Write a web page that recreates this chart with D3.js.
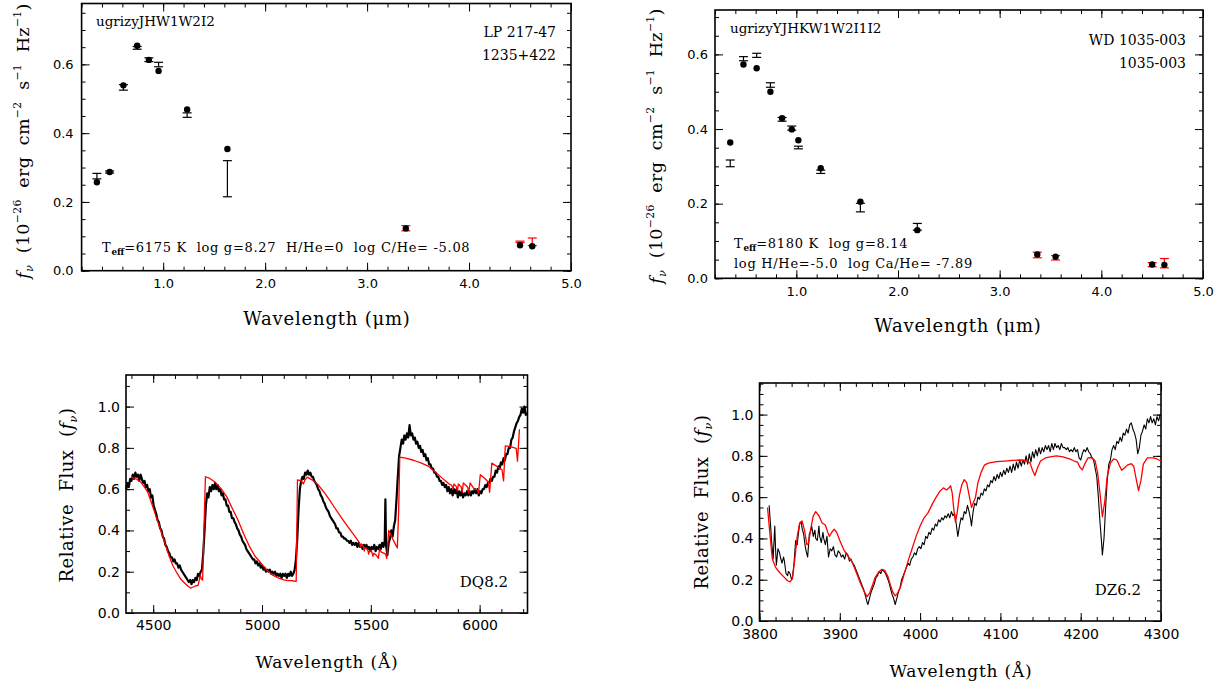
<!DOCTYPE html>
<head>
<meta charset="utf-8">
<style>
body { margin: 0; background: #fff; }
svg text { font-family: "DejaVu Serif", serif; fill: #000; white-space: pre; }
svg .tick text { font-family: "DejaVu Sans", sans-serif; font-size: 13px; }
svg .tick line { stroke: #000; stroke-width: 1px; }
svg .frame { fill: none; stroke: #000; stroke-width: 1.6px; }
svg .obs { fill: none; stroke: #000; stroke-linejoin: round; }
svg .model { fill: none; stroke: #ff0000; stroke-width: 1.3px; stroke-linejoin: round; }
</style>
</head>
<body>
<script src="https://cdn.jsdelivr.net/npm/d3@7"></script>
<script>
// ---- photometry, LP 217-47 (top left) ----
var tlBand  = ["u", "g", "r", "i", "z", "y", "J", "H", "W1", "I2", "W2"];
var tlWave  = [0.35, 0.475, 0.61, 0.745, 0.86, 0.955, 1.235, 1.63, 3.38, 4.50, 4.62];
var tlModel = [0.257, 0.287, 0.539, 0.654, 0.613, 0.581, 0.469, 0.354, 0.123, 0.074, 0.071];
var tlLow   = [0.267, 0.284, 0.525, 0.644, 0.608, 0.593, 0.446, 0.215, 0.116, 0.082, 0.073];
var tlHigh  = [0.283, 0.290, 0.541, 0.652, 0.619, 0.606, 0.459, 0.320, 0.131, 0.086, 0.095];

// ---- photometry, WD 1035-003 (top right) ----
var trBand  = ["u", "g", "r", "i", "z", "y", "Y", "J", "H", "K", "W1", "I1", "I2", "W2"];
var trWave  = [0.35, 0.48, 0.61, 0.745, 0.86, 0.955, 1.02, 1.24, 1.63, 2.19, 3.37, 3.55, 4.50, 4.62];
var trModel = [0.364, 0.573, 0.563, 0.500, 0.429, 0.399, 0.370, 0.295, 0.205, 0.129, 0.064, 0.058, 0.037, 0.036];
var trLow   = [0.299, 0.583, 0.592, 0.512, 0.421, 0.397, 0.347, 0.281, 0.178, 0.129, 0.055, 0.049, 0.031, 0.028];
var trHigh  = [0.317, 0.594, 0.603, 0.524, 0.431, 0.408, 0.354, 0.290, 0.201, 0.147, 0.070, 0.061, 0.042, 0.053];

// ---- DQ spectrum (bottom left), [wavelength A, relative flux] ----
var dqObs = [
[4376,0.60],[4382,0.63],[4388,0.61],[4394,0.65],[4400,0.64],[4406,0.67],[4412,0.65],[4418,0.68],[4424,0.66],[4430,0.67],
[4436,0.64],[4442,0.67],[4448,0.65],[4454,0.63],[4460,0.64],[4466,0.61],[4472,0.62],[4478,0.59],[4484,0.60],[4490,0.56],
[4496,0.57],[4502,0.52],[4508,0.50],[4514,0.48],[4520,0.45],[4526,0.44],[4532,0.41],[4538,0.40],[4544,0.37],[4550,0.36],
[4556,0.33],[4562,0.32],[4568,0.30],[4574,0.29],[4580,0.27],[4586,0.27],[4592,0.25],[4598,0.26],[4604,0.24],[4610,0.24],
[4616,0.22],[4622,0.23],[4628,0.21],[4634,0.20],[4640,0.19],[4646,0.18],[4652,0.17],[4658,0.16],[4664,0.15],[4670,0.16],
[4676,0.14],[4682,0.16],[4688,0.15],[4694,0.17],[4700,0.16],[4706,0.19],[4712,0.18],[4718,0.20],[4724,0.21],[4730,0.29],
[4736,0.40],[4742,0.52],[4748,0.58],[4754,0.56],[4760,0.61],[4766,0.59],[4772,0.62],[4778,0.60],[4784,0.63],[4790,0.60],
[4796,0.62],[4802,0.59],[4808,0.60],[4814,0.57],[4820,0.58],[4826,0.55],[4832,0.55],[4838,0.52],[4844,0.52],[4850,0.49],
[4856,0.49],[4862,0.46],[4868,0.46],[4874,0.44],[4880,0.43],[4886,0.41],[4892,0.40],[4898,0.38],[4904,0.37],[4910,0.35],
[4916,0.34],[4922,0.33],[4928,0.31],[4934,0.30],[4940,0.29],[4946,0.28],[4952,0.27],[4958,0.26],[4964,0.26],[4970,0.24],
[4976,0.25],[4982,0.23],[4988,0.24],[4994,0.22],[5000,0.23],[5006,0.21],[5012,0.22],[5018,0.20],[5024,0.21],[5030,0.20],
[5036,0.21],[5042,0.19],[5048,0.20],[5054,0.19],[5060,0.20],[5066,0.18],[5072,0.19],[5078,0.18],[5084,0.19],[5090,0.17],
[5096,0.19],[5102,0.18],[5108,0.19],[5114,0.17],[5120,0.19],[5126,0.18],[5132,0.20],[5138,0.18],[5144,0.19],[5150,0.21],
[5156,0.26],[5162,0.36],[5168,0.50],[5174,0.60],[5180,0.64],[5186,0.66],[5192,0.65],[5198,0.68],[5204,0.67],[5210,0.69],
[5216,0.67],[5222,0.68],[5228,0.66],[5234,0.66],[5240,0.64],[5246,0.63],[5252,0.62],[5258,0.60],[5264,0.59],[5270,0.57],
[5276,0.56],[5282,0.54],[5288,0.53],[5294,0.51],[5300,0.50],[5306,0.49],[5312,0.47],[5318,0.46],[5324,0.45],[5330,0.44],
[5336,0.43],[5342,0.41],[5348,0.41],[5354,0.39],[5360,0.39],[5366,0.37],[5372,0.37],[5378,0.36],[5384,0.36],[5390,0.35],
[5396,0.35],[5402,0.34],[5408,0.35],[5414,0.33],[5420,0.34],[5426,0.33],[5432,0.34],[5438,0.32],[5444,0.34],[5450,0.32],
[5456,0.33],[5462,0.31],[5468,0.33],[5474,0.32],[5480,0.33],[5486,0.31],[5492,0.32],[5498,0.30],[5504,0.32],[5510,0.31],
[5516,0.33],[5522,0.30],[5528,0.32],[5534,0.31],[5540,0.33],[5546,0.31],[5552,0.34],[5558,0.32],[5564,0.35],[5567,0.55],
[5570,0.33],[5576,0.28],[5582,0.34],[5588,0.36],[5594,0.40],[5600,0.37],[5606,0.42],[5612,0.45],[5618,0.55],[5624,0.66],
[5630,0.76],[5636,0.80],[5642,0.84],[5648,0.82],[5654,0.86],[5660,0.84],[5666,0.87],[5672,0.85],[5678,0.91],[5684,0.86],
[5690,0.87],[5696,0.84],[5702,0.85],[5708,0.82],[5714,0.83],[5720,0.80],[5726,0.81],[5732,0.78],[5738,0.79],[5744,0.76],
[5750,0.77],[5756,0.74],[5762,0.75],[5768,0.72],[5774,0.72],[5780,0.70],[5786,0.70],[5792,0.68],[5798,0.68],[5804,0.66],
[5810,0.66],[5816,0.64],[5822,0.64],[5828,0.62],[5834,0.63],[5840,0.61],[5846,0.62],[5852,0.59],[5858,0.61],[5864,0.58],
[5870,0.60],[5876,0.57],[5882,0.60],[5888,0.58],[5894,0.60],[5900,0.56],[5906,0.59],[5912,0.57],[5918,0.59],[5924,0.56],
[5930,0.58],[5936,0.57],[5942,0.59],[5948,0.57],[5954,0.59],[5960,0.57],[5966,0.59],[5972,0.58],[5978,0.60],[5984,0.58],
[5990,0.60],[5996,0.57],[6002,0.59],[6008,0.58],[6014,0.60],[6020,0.60],[6026,0.62],[6032,0.61],[6038,0.63],[6044,0.63],
[6050,0.65],[6056,0.64],[6062,0.66],[6068,0.66],[6074,0.69],[6080,0.68],[6086,0.71],[6092,0.70],[6098,0.73],[6104,0.72],
[6110,0.75],[6116,0.74],[6122,0.77],[6128,0.77],[6134,0.80],[6140,0.80],[6146,0.84],[6152,0.85],[6158,0.88],[6164,0.90],
[6170,0.92],[6176,0.93],[6182,0.95],[6188,0.96],[6194,0.99],[6200,0.97],[6206,1.00],[6212,0.96],[6218,0.97]
];
var dqModel = [
[4398,0.658],[4420,0.65],[4442,0.635],[4460,0.61],[4475,0.585],[4490,0.54],[4503,0.50],[4520,0.445],[4539,0.387],[4556,0.33],
[4574,0.274],[4590,0.23],[4609,0.194],[4626,0.165],[4644,0.145],[4660,0.13],[4672,0.121],[4684,0.126],[4696,0.132],[4706,0.133],
[4712,0.16],[4716,0.185],[4721,0.165],[4727,0.16],[4733,0.40],[4740,0.66],[4760,0.652],[4784,0.635],[4810,0.605],[4837,0.565],
[4862,0.51],[4889,0.452],[4915,0.385],[4942,0.323],[4968,0.275],[4995,0.242],[5020,0.21],[5047,0.185],[5075,0.17],[5100,0.161],
[5120,0.157],[5135,0.157],[5145,0.155],[5157,0.153],[5160,0.40],[5163,0.645],[5180,0.640],[5190,0.625],[5198,0.645],[5208,0.658],
[5230,0.645],[5258,0.621],[5285,0.585],[5310,0.548],[5337,0.505],[5363,0.465],[5390,0.425],[5416,0.387],[5438,0.355],[5448,0.34],
[5452,0.32],[5456,0.335],[5466,0.322],[5470,0.30],[5474,0.318],[5486,0.305],[5490,0.285],[5494,0.302],[5505,0.295],[5510,0.275],
[5514,0.29],[5525,0.28],[5535,0.265],[5540,0.31],[5548,0.295],[5560,0.29],[5568,0.285],[5573,0.265],[5578,0.33],[5582,0.40],
[5590,0.385],[5600,0.36],[5612,0.335],[5622,0.315],[5628,0.50],[5633,0.755],[5660,0.75],[5696,0.74],[5730,0.727],[5766,0.71],
[5800,0.68],[5837,0.645],[5860,0.625],[5872,0.618],[5878,0.60],[5882,0.625],[5893,0.612],[5898,0.59],[5902,0.625],[5915,0.612],
[5920,0.585],[5925,0.63],[5945,0.61],[5950,0.58],[5956,0.63],[5975,0.60],[5990,0.597],[5995,0.58],[6003,0.67],[6020,0.655],
[6040,0.635],[6046,0.585],[6056,0.726],[6080,0.71],[6103,0.694],[6110,0.64],[6118,0.81],[6145,0.805],[6168,0.798],[6174,0.735],
[6183,0.89]
];

// ---- DZ spectrum (bottom right), [wavelength A, relative flux] ----
var dzObs = [
[3812,0.56],[3814,0.45],[3815,0.39],[3817,0.30],[3819,0.46],[3820,0.35],[3821,0.27],[3823,0.35],[3825,0.33],[3826,0.31],
[3828,0.28],[3830,0.31],[3831,0.29],[3833,0.23],[3835,0.22],[3836,0.24],[3838,0.23],[3840,0.20],[3841,0.21],[3843,0.28],
[3845,0.39],[3847,0.37],[3848,0.41],[3850,0.47],[3852,0.48],[3853,0.45],[3855,0.42],[3857,0.36],[3858,0.34],[3860,0.31],
[3862,0.42],[3864,0.44],[3865,0.46],[3867,0.41],[3869,0.44],[3870,0.40],[3872,0.39],[3874,0.46],[3875,0.41],[3877,0.38],
[3879,0.43],[3880,0.40],[3882,0.37],[3884,0.41],[3886,0.31],[3888,0.35],[3890,0.34],[3892,0.36],[3894,0.32],[3896,0.31],
[3898,0.34],[3900,0.33],[3902,0.31],[3904,0.32],[3906,0.30],[3908,0.33],[3910,0.32],[3912,0.29],[3914,0.30],[3916,0.28],
[3918,0.27],[3920,0.25],[3922,0.23],[3924,0.21],[3926,0.19],[3928,0.17],[3930,0.15],[3932,0.12],[3934,0.09],[3935,0.08],
[3937,0.11],[3939,0.14],[3941,0.16],[3943,0.18],[3945,0.21],[3947,0.22],[3949,0.24],[3951,0.23],[3953,0.25],[3955,0.24],
[3957,0.23],[3959,0.21],[3961,0.19],[3963,0.16],[3965,0.13],[3967,0.11],[3969,0.08],[3971,0.11],[3973,0.14],[3975,0.16],
[3977,0.20],[3979,0.22],[3981,0.24],[3983,0.26],[3985,0.28],[3987,0.27],[3989,0.30],[3991,0.31],[3993,0.33],[3995,0.32],
[3997,0.35],[3999,0.36],[4001,0.35],[4003,0.38],[4005,0.37],[4007,0.41],[4009,0.40],[4011,0.43],[4013,0.42],[4015,0.45],
[4017,0.44],[4019,0.47],[4021,0.46],[4023,0.49],[4025,0.48],[4027,0.50],[4029,0.49],[4031,0.51],[4033,0.50],[4035,0.52],
[4037,0.50],[4039,0.53],[4041,0.51],[4043,0.52],[4045,0.47],[4047,0.41],[4049,0.46],[4051,0.50],[4053,0.49],[4055,0.53],
[4057,0.52],[4059,0.56],[4061,0.53],[4063,0.49],[4064,0.46],[4066,0.53],[4068,0.57],[4070,0.56],[4072,0.60],[4074,0.59],
[4076,0.62],[4078,0.61],[4080,0.64],[4082,0.63],[4084,0.66],[4086,0.65],[4088,0.68],[4090,0.67],[4092,0.70],[4094,0.68],
[4096,0.71],[4098,0.69],[4100,0.72],[4102,0.70],[4104,0.73],[4106,0.71],[4108,0.74],[4110,0.72],[4112,0.75],[4114,0.72],
[4116,0.76],[4118,0.73],[4120,0.77],[4122,0.74],[4124,0.78],[4126,0.75],[4128,0.78],[4130,0.76],[4132,0.80],[4134,0.76],
[4136,0.81],[4138,0.77],[4140,0.82],[4142,0.79],[4144,0.83],[4146,0.80],[4148,0.84],[4150,0.81],[4152,0.84],[4154,0.82],
[4156,0.85],[4158,0.83],[4160,0.85],[4162,0.82],[4164,0.86],[4166,0.83],[4168,0.86],[4170,0.84],[4172,0.85],[4174,0.83],
[4176,0.86],[4178,0.84],[4180,0.84],[4182,0.83],[4184,0.84],[4186,0.82],[4188,0.83],[4190,0.82],[4192,0.84],[4194,0.82],
[4196,0.83],[4198,0.79],[4200,0.78],[4202,0.81],[4204,0.83],[4206,0.82],[4208,0.84],[4210,0.82],[4212,0.81],[4214,0.79],
[4216,0.78],[4218,0.74],[4220,0.70],[4222,0.60],[4224,0.48],[4226,0.38],[4227,0.32],[4229,0.40],[4231,0.55],[4233,0.68],
[4235,0.76],[4237,0.78],[4239,0.83],[4241,0.85],[4243,0.83],[4245,0.87],[4247,0.86],[4249,0.89],[4251,0.87],[4253,0.91],
[4255,0.90],[4257,0.93],[4259,0.91],[4261,0.95],[4263,0.96],[4265,0.93],[4267,0.91],[4269,0.88],[4271,0.81],[4273,0.84],
[4275,0.90],[4277,0.92],[4279,0.95],[4281,0.93],[4283,0.98],[4285,0.96],[4287,0.99],[4289,0.96],[4291,0.98],[4293,0.95],
[4295,0.99],[4297,0.97],[4299,1.00]
];
var dzModel = [
[3810,0.55],[3813,0.42],[3816,0.30],[3820,0.26],[3825,0.235],[3830,0.215],[3835,0.195],[3838,0.19],[3841,0.205],[3844,0.30],
[3847,0.41],[3850,0.475],[3853,0.485],[3856,0.44],[3859,0.37],[3861,0.375],[3864,0.45],[3867,0.51],[3870,0.53],[3874,0.51],
[3878,0.475],[3882,0.465],[3885,0.43],[3887,0.41],[3890,0.43],[3893,0.445],[3896,0.43],[3900,0.39],[3905,0.345],[3910,0.315],
[3914,0.295],[3918,0.26],[3922,0.22],[3926,0.18],[3930,0.145],[3934,0.118],[3937,0.135],[3940,0.166],[3944,0.21],[3948,0.235],
[3952,0.25],[3956,0.245],[3960,0.215],[3963,0.175],[3966,0.14],[3969,0.122],[3972,0.135],[3976,0.17],[3980,0.225],[3985,0.29],
[3990,0.35],[3995,0.41],[4000,0.46],[4005,0.50],[4010,0.525],[4015,0.565],[4020,0.60],[4025,0.63],[4029,0.645],[4033,0.635],
[4036,0.645],[4038,0.655],[4040,0.62],[4042,0.54],[4044,0.48],[4046,0.52],[4049,0.61],[4052,0.66],[4055,0.685],[4058,0.67],
[4061,0.61],[4064,0.55],[4066,0.57],[4069,0.60],[4072,0.67],[4076,0.72],[4080,0.755],[4085,0.765],[4095,0.772],[4105,0.775],
[4115,0.778],[4125,0.78],[4132,0.778],[4137,0.765],[4140,0.73],[4143,0.705],[4146,0.74],[4150,0.775],[4156,0.79],[4162,0.795],
[4170,0.80],[4178,0.795],[4186,0.785],[4192,0.775],[4196,0.77],[4199,0.745],[4202,0.732],[4205,0.76],[4209,0.79],[4214,0.792],
[4218,0.775],[4221,0.72],[4224,0.62],[4227,0.505],[4230,0.58],[4233,0.70],[4237,0.765],[4241,0.785],[4245,0.78],[4248,0.755],
[4251,0.73],[4254,0.74],[4258,0.755],[4263,0.762],[4266,0.75],[4269,0.69],[4272,0.632],[4275,0.68],[4278,0.76],[4283,0.79],
[4290,0.79],[4295,0.785],[4300,0.775]
];

// tick values
var sedXMajor = [1, 2, 3, 4, 5];
var sedXMinor = d3.range(0.2, 5.01, 0.2);
var sedYMajor = [0, 0.2, 0.4, 0.6];
var sedYMinor = d3.range(0, 0.78, 0.05);
var dqXMajor = [4500, 5000, 5500, 6000];
var dqXMinor = d3.range(4400, 6201, 100);
var dzXMajor = [3800, 3900, 4000, 4100, 4200, 4300];
var dzXMinor = d3.range(3800, 4301, 20);
var specYMajor = [0, 0.2, 0.4, 0.6, 0.8, 1.0];
var dqYMinor = d3.range(0, 1.151, 0.1);
var dzYMinor = d3.range(0, 1.151, 0.05);

var svg = d3.select("body").append("svg")
    .attr("width", 1229)
    .attr("height", 690);

// one axis side: inward ticks, optional labels
function side(g, maker, scale, transform, values, size, fmt, pad) {
  var a = maker(scale)
      .tickValues(values)
      .tickSizeInner(-size)
      .tickSizeOuter(0)
      .tickPadding(pad || 0)
      .tickFormat(fmt || "");
  var s = g.append("g").attr("transform", transform).call(a);
  s.select(".domain").remove();
  s.attr("font-family", null).attr("font-size", null);
  return s;
}

function panel(o) {
  var x = d3.scaleLinear().domain(o.xDomain).range([o.left, o.right]);
  var y = d3.scaleLinear().domain(o.yDomain).range([o.bottom, o.top]);
  var g = svg.append("g");
  var eps = 1e-6;
  var inX = function (v) { return v >= o.xDomain[0] - eps && v <= o.xDomain[1] + eps; };
  var inY = function (v) { return v >= o.yDomain[0] - eps && v <= o.yDomain[1] + eps; };
  var xMin = o.xMinor.filter(inX), xMaj = o.xMajor.filter(inX);
  var yMin = o.yMinor.filter(inY), yMaj = o.yMajor.filter(inY);

  side(g, d3.axisBottom, x, "translate(0," + o.bottom + ")", xMin, 4);
  side(g, d3.axisBottom, x, "translate(0," + o.bottom + ")", xMaj, 8, o.xFormat, o.xPad);
  side(g, d3.axisTop, x, "translate(0," + o.top + ")", xMin, 4);
  side(g, d3.axisTop, x, "translate(0," + o.top + ")", xMaj, 8);
  side(g, d3.axisLeft, y, "translate(" + o.left + ",0)", yMin, 4);
  side(g, d3.axisLeft, y, "translate(" + o.left + ",0)", yMaj, 8, o.yFormat, o.yPad);
  side(g, d3.axisRight, y, "translate(" + o.right + ",0)", yMin, 4);
  side(g, d3.axisRight, y, "translate(" + o.right + ",0)", yMaj, 8);

  g.selectAll(".tick text").style("font-size", o.tickFont + "px");

  g.append("rect").classed("frame", true)
      .attr("x", o.left).attr("y", o.top)
      .attr("width", o.right - o.left).attr("height", o.bottom - o.top);

  return { g: g, x: x, y: y };
}

function photometry(p, band, wave, model, lo, hi) {
  var rows = wave.map(function (w, i) {
    return { w: w, m: model[i], lo: lo[i], hi: hi[i], red: /^[WI]/.test(band[i]) };
  });
  var bars = p.g.selectAll(".ebar").data(rows).enter().append("g")
      .style("stroke", function (d) { return d.red ? "#ff0000" : "#000"; })
      .style("stroke-width", "1.2px");
  bars.append("line")
      .attr("x1", function (d) { return p.x(d.w); }).attr("x2", function (d) { return p.x(d.w); })
      .attr("y1", function (d) { return p.y(d.lo); }).attr("y2", function (d) { return p.y(d.hi); });
  ["lo", "hi"].forEach(function (k) {
    bars.append("line")
        .attr("x1", function (d) { return p.x(d.w) - 4.5; })
        .attr("x2", function (d) { return p.x(d.w) + 4.5; })
        .attr("y1", function (d) { return p.y(d[k]); })
        .attr("y2", function (d) { return p.y(d[k]); });
  });
  p.g.selectAll(".dot").data(rows).enter().append("circle")
      .attr("cx", function (d) { return p.x(d.w); })
      .attr("cy", function (d) { return p.y(d.m); })
      .attr("r", 3.2)
      .style("fill", "#000");
}

function spectrum(p, data, cls, width) {
  var line = d3.line()
      .x(function (d) { return p.x(d[0]); })
      .y(function (d) { return p.y(d[1]); });
  var path = p.g.append("path").classed(cls, true).attr("d", line(data));
  if (width) path.style("stroke-width", width + "px");
}

function label(g, x, y, str, size, anchor) {
  return g.append("text").attr("x", x).attr("y", y)
      .attr("text-anchor", anchor || "start")
      .style("font-size", size + "px")
      .text(str);
}

// T_eff line with subscript
function teff(g, x, y, rest, size) {
  var t = g.append("text").attr("x", x).attr("y", y)
      .style("font-size", size + "px").style("letter-spacing", "0.7px");
  t.append("tspan").text("T");
  t.append("tspan").attr("dy", 3).style("font-size", (size * 0.68) + "px").style("font-weight", "bold")
      .style("letter-spacing", "0px").text("eff");
  t.append("tspan").attr("dy", -3).text(rest);
}

// f_nu (10^-26 erg cm^-2 s^-1 Hz^-1), rotated
function fnuLabel(g, cx, cy, size) {
  var t = g.append("text")
      .attr("transform", "translate(" + cx + "," + cy + ") rotate(-90)")
      .attr("text-anchor", "middle")
      .style("font-size", size + "px")
      .style("letter-spacing", "0.3px");
  var sup = size * 0.62;
  t.append("tspan").style("font-style", "italic").text("f");
  t.append("tspan").style("font-style", "italic").style("font-size", sup + "px").attr("dy", 4).text("ν");
  t.append("tspan").attr("dy", -4).text("  (10");
  t.append("tspan").style("font-size", sup + "px").attr("dy", -8).text("−26");
  t.append("tspan").attr("dy", 8).text("  erg  cm");
  t.append("tspan").style("font-size", sup + "px").attr("dy", -8).text("−2");
  t.append("tspan").attr("dy", 8).text("  s");
  t.append("tspan").style("font-size", sup + "px").attr("dy", -8).text("−1");
  t.append("tspan").attr("dy", 8).text("  Hz");
  t.append("tspan").style("font-size", sup + "px").attr("dy", -8).text("−1");
  t.append("tspan").attr("dy", 8).text(")");
}

function relFluxLabel(g, cx, cy, size) {
  var t = g.append("text")
      .attr("transform", "translate(" + cx + "," + cy + ") rotate(-90)")
      .attr("text-anchor", "middle")
      .style("font-size", size + "px")
      .style("letter-spacing", "0.5px");
  t.append("tspan").text("Relative  Flux  (");
  t.append("tspan").style("font-style", "italic").text("f");
  t.append("tspan").style("font-style", "italic").style("font-size", (size * 0.62) + "px").attr("dy", 4).text("ν");
  t.append("tspan").attr("dy", -4).text(")");
}

function xTitle(g, cx, y, str, size) {
  label(g, cx, y, str, size, "middle").style("letter-spacing", "0.8px");
}

var f1 = d3.format(".1f");

// ---- top left ----
var tl = panel({ xDomain: [0.2, 5.0], yDomain: [0, 0.777], left: 81.6, right: 571, top: 3.5, bottom: 270.7,
  xMajor: sedXMajor, xMinor: sedXMinor, yMajor: sedYMajor, yMinor: sedYMinor,
  xFormat: f1, yFormat: f1, xPad: 8, yPad: 8, tickFont: 13 });
photometry(tl, tlBand, tlWave, tlModel, tlLow, tlHigh);
label(tl.g, 96, 26, "ugrizyJHW1W2I2", 13.5);
label(tl.g, 556, 37, "LP 217-47", 14, "end");
label(tl.g, 556, 60, "1235+422", 14, "end");
teff(tl.g, 102, 252, "=6175 K  log g=8.27  H/He=0  log C/He= -5.08", 13);
fnuLabel(tl.g, 29, 141, 17.5);
xTitle(tl.g, 327, 325, "Wavelength (μm)", 18);

// ---- top right ----
var tr = panel({ xDomain: [0.2, 5.0], yDomain: [0, 0.719], left: 715, right: 1203, top: 10, bottom: 278.3,
  xMajor: sedXMajor, xMinor: sedXMinor, yMajor: sedYMajor, yMinor: sedYMinor,
  xFormat: f1, yFormat: f1, xPad: 8, yPad: 7, tickFont: 13 });
photometry(tr, trBand, trWave, trModel, trLow, trHigh);
label(tr.g, 730, 33, "ugrizyYJHKW1W2I1I2", 13.5);
label(tr.g, 1186, 45, "WD 1035-003", 14, "end");
label(tr.g, 1186, 68, "1035-003", 14, "end");
teff(tr.g, 734, 248, "=8180 K  log g=8.14", 13);
label(tr.g, 734, 268, "log H/He=-5.0  log Ca/He= -7.89", 13).style("letter-spacing", "0.7px");
fnuLabel(tr.g, 662, 146, 17.5);
xTitle(tr.g, 958, 332, "Wavelength (μm)", 18);

// ---- bottom left ----
var bl = panel({ xDomain: [4375, 6220], yDomain: [0, 1.153], left: 126, right: 527.5, top: 375, bottom: 613,
  xMajor: dqXMajor, xMinor: dqXMinor, yMajor: specYMajor, yMinor: dqYMinor,
  xFormat: d3.format("d"), yFormat: f1, xPad: 7, yPad: 6, tickFont: 14 });
spectrum(bl, dqObs, "obs", 2.2);
spectrum(bl, dqModel, "model");
label(bl.g, 508, 587, "DQ8.2", 15, "end");
relFluxLabel(bl.g, 73, 495, 18);
xTitle(bl.g, 327, 668, "Wavelength (Å)", 17);

// ---- bottom right ----
var br = panel({ xDomain: [3800, 4300], yDomain: [0, 1.153], left: 759.5, right: 1161, top: 383, bottom: 621,
  xMajor: dzXMajor, xMinor: dzXMinor, yMajor: specYMajor, yMinor: dzYMinor,
  xFormat: d3.format("d"), yFormat: f1, xPad: 8, yPad: 6, tickFont: 14 });
spectrum(br, dzObs, "obs", 1.1);
spectrum(br, dzModel, "model");
label(br.g, 1141, 595, "DZ6.2", 15, "end");
relFluxLabel(br.g, 708, 502, 18);
xTitle(br.g, 961, 677, "Wavelength (Å)", 17);
</script>
</body>
</html>
